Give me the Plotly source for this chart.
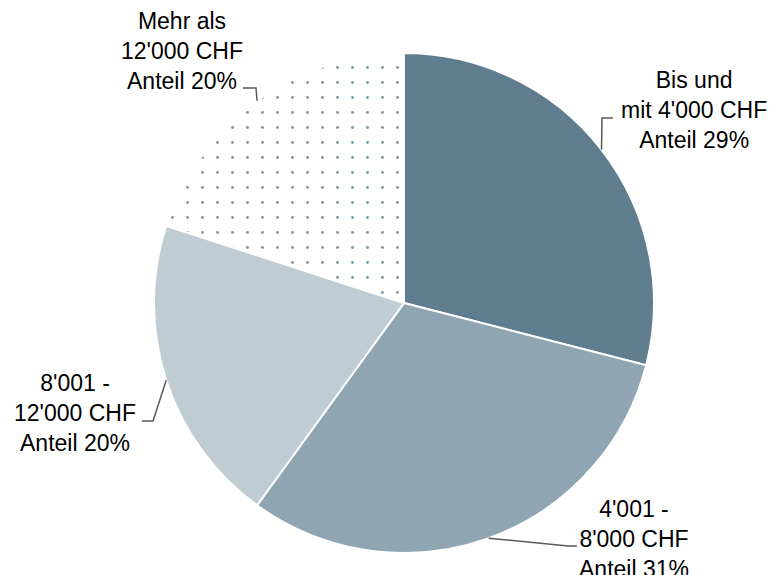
import math
import plotly.graph_objects as go

categories = ["Bis und<br>mit 4'000 CHF", "4'001 -<br>8'000 CHF", "8'001 -<br>12'000 CHF", "Mehr als<br>12'000 CHF"]
shares = [29, 31, 20, 20]
share_labels = ["Anteil 29%", "Anteil 31%", "Anteil 20%", "Anteil 20%"]

W, H = 772, 575
CX, CY, R = 404, 303, 250

colors = ["#5F7D8E", "#8FA5B1", "#BFCCD3", "#FFFFFF"]
pattern_shapes = ["", "", "", "."]

fig = go.Figure()
fig.add_trace(go.Pie(
    values=shares,
    labels=categories,
    sort=False,
    direction="clockwise",
    rotation=0,
    textinfo="none",
    hoverinfo="skip",
    showlegend=False,
    marker=dict(
        colors=colors,
        line=dict(color="white", width=2),
        pattern=dict(shape=pattern_shapes, fgcolor="#7F99A8", bgcolor="#FFFFFF",
                     size=15, solidity=0.03, fillmode="replace"),
    ),
    domain=dict(x=[(CX - R) / W, (CX + R) / W], y=[1 - (CY + R) / H, 1 - (CY - R) / H]),
))

# label placement (pixels): text centre, line end near text, elbow x
label_pos = [
    dict(tx=694, ty=110, ex=613, ey=118, bx=602),
    dict(tx=634, ty=539, ex=577, ey=546, bx=568),
    dict(tx=75, ty=413, ex=142, ey=421, bx=153),
    dict(tx=182, ty=51, ex=243, ey=88, bx=256),
]

def px(x):
    return x / W

def py(y):
    return 1 - y / H

total = sum(shares)
cum = 0
shapes = []
annotations = []
for i, v in enumerate(shares):
    mid = (cum + v / 2) / total * 2 * math.pi
    cum += v
    ax = CX + R * math.sin(mid)
    ay = CY - R * math.cos(mid)
    p = label_pos[i]
    path = f"M {px(p['ex'])} {py(p['ey'])} L {px(p['bx'])} {py(p['ey'])} L {px(ax)} {py(ay)}"
    shapes.append(dict(type="path", xref="paper", yref="paper", path=path,
                       line=dict(color="#595959", width=1.5)))
    annotations.append(dict(
        x=px(p["tx"]), y=py(p["ty"]), xref="paper", yref="paper",
        text=categories[i] + "<br>" + share_labels[i],
        showarrow=False, xanchor="center", yanchor="middle", align="center",
        font=dict(family="Liberation Sans, Arial", size=23, color="#000000"),
    ))

fig.update_layout(
    width=W, height=H,
    margin=dict(l=0, r=0, t=0, b=0),
    paper_bgcolor="white", plot_bgcolor="white",
    shapes=shapes, annotations=annotations,
)

fig.write_html("out.html", config={"displayModeBar": False})

with open("out.html", encoding="utf-8") as f:
    html = f.read()
html = html.replace("<head>", "<head><style>html,body{margin:0;padding:0;overflow:hidden;}</style>", 1)
with open("out.html", "w", encoding="utf-8") as f:
    f.write(html)
